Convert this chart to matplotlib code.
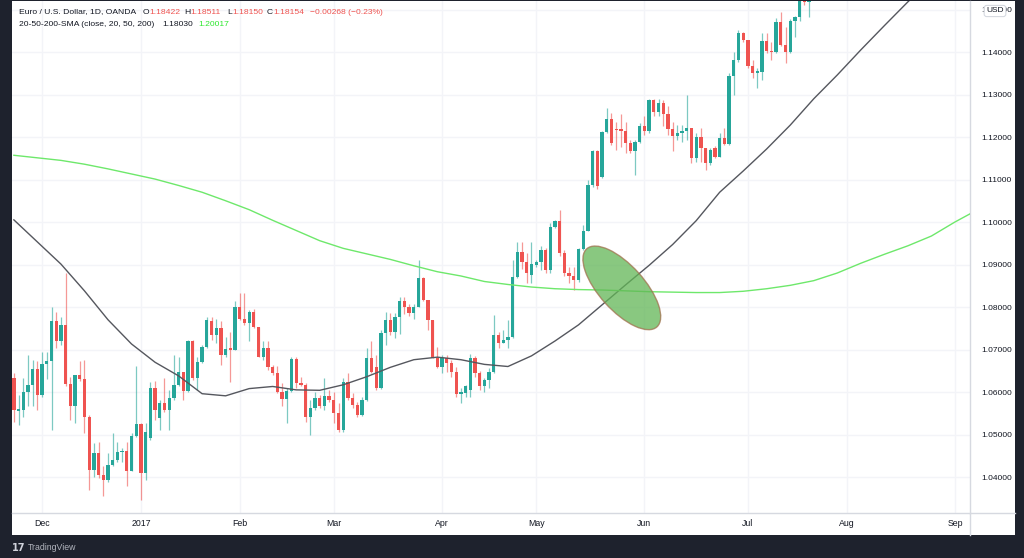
import numpy as np
import pandas as pd
import matplotlib
matplotlib.use('Agg')
import matplotlib.pyplot as plt
from matplotlib.patches import Ellipse, Rectangle
from matplotlib.transforms import IdentityTransform
from matplotlib.lines import Line2D

# EUR/USD daily candles, 23 Nov 2016 -> 19 Jul 2017
opens = [1.0632, 1.0556, 1.0558, 1.0599, 1.0616, 1.0654, 1.0593, 1.0666, 1.0672, 1.0768,
         1.0721, 1.0758, 1.0619, 1.0566, 1.0640, 1.0630, 1.0541, 1.0417, 1.0456, 1.0405,
         1.0392, 1.0428, 1.0440, 1.0459, 1.0462, 1.0415, 1.0497, 1.0524, 1.0409, 1.0491,
         1.0610, 1.0540, 1.0575, 1.0558, 1.0585, 1.0617, 1.0646, 1.0603, 1.0719, 1.0632,
         1.0670, 1.0705, 1.0768, 1.0734, 1.0751, 1.0686, 1.0703, 1.0700, 1.0801, 1.0772,
         1.0762, 1.0788, 1.0754, 1.0683, 1.0703, 1.0658, 1.0644, 1.0601, 1.0583, 1.0603,
         1.0677, 1.0621, 1.0617, 1.0542, 1.0562, 1.0587, 1.0566, 1.0591, 1.0581, 1.0550,
         1.0511, 1.0624, 1.0585, 1.0570, 1.0546, 1.0581, 1.0680, 1.0658, 1.0609, 1.0738,
         1.0770, 1.0742, 1.0777, 1.0814, 1.0801, 1.0787, 1.0801, 1.0868, 1.0817, 1.0770,
         1.0680, 1.0658, 1.0680, 1.0669, 1.0648, 1.0595, 1.0597, 1.0605, 1.0680, 1.0644,
         1.0614, 1.0628, 1.0648, 1.0734, 1.0715, 1.0723, 1.0730, 1.0871, 1.0930, 1.0907,
         1.0875, 1.0899, 1.0905, 1.0934, 1.0887, 1.0989, 1.1003, 1.0926, 1.0879, 1.0872,
         1.0864, 1.0936, 1.0980, 1.1087, 1.1166, 1.1105, 1.1211, 1.1242, 1.1220, 1.1220,
         1.1214, 1.1187, 1.1166, 1.1189, 1.1225, 1.1214, 1.1287, 1.1258, 1.1280, 1.1254,
         1.1218, 1.1202, 1.1209, 1.1213, 1.1221, 1.1150, 1.1201, 1.1174, 1.1138, 1.1174,
         1.1154, 1.1197, 1.1184, 1.1344, 1.1381, 1.1444, 1.1428, 1.1366, 1.1350, 1.1354,
         1.1427, 1.1403, 1.1401, 1.1471, 1.1417, 1.1401, 1.1474, 1.1483, 1.1540, 1.1518]
highs = [1.0644, 1.0593, 1.0632, 1.0687, 1.0675, 1.0672, 1.0695, 1.0695, 1.0801, 1.0789,
         1.0777, 1.0879, 1.0636, 1.0640, 1.0672, 1.0675, 1.0545, 1.0479, 1.0483, 1.0425,
         1.0456, 1.0503, 1.0483, 1.0468, 1.0483, 1.0503, 1.0661, 1.0527, 1.0527, 1.0624,
         1.0627, 1.0581, 1.0632, 1.0605, 1.0687, 1.0683, 1.0648, 1.0722, 1.0722, 1.0683,
         1.0711, 1.0776, 1.0776, 1.0771, 1.0768, 1.0730, 1.0742, 1.0815, 1.0832, 1.0832,
         1.0793, 1.0795, 1.0754, 1.0719, 1.0719, 1.0664, 1.0661, 1.0621, 1.0609, 1.0683,
         1.0682, 1.0636, 1.0621, 1.0581, 1.0601, 1.0593, 1.0634, 1.0605, 1.0601, 1.0573,
         1.0632, 1.0644, 1.0597, 1.0577, 1.0589, 1.0703, 1.0719, 1.0687, 1.0746, 1.0789,
         1.0787, 1.0787, 1.0824, 1.0824, 1.0806, 1.0806, 1.0911, 1.0871, 1.0817, 1.0770,
         1.0707, 1.0687, 1.0687, 1.0675, 1.0660, 1.0609, 1.0617, 1.0690, 1.0684, 1.0650,
         1.0632, 1.0656, 1.0781, 1.0742, 1.0746, 1.0770, 1.0911, 1.0954, 1.0954, 1.0926,
         1.0952, 1.0910, 1.0944, 1.0938, 1.0997, 1.1005, 1.1028, 1.0934, 1.0895, 1.0895,
         1.0938, 1.0993, 1.1099, 1.1170, 1.1170, 1.1213, 1.1268, 1.1256, 1.1236, 1.1254,
         1.1236, 1.1193, 1.1193, 1.1232, 1.1250, 1.1290, 1.1290, 1.1290, 1.1287, 1.1272,
         1.1236, 1.1228, 1.1228, 1.1299, 1.1221, 1.1209, 1.1221, 1.1174, 1.1174, 1.1180,
         1.1209, 1.1221, 1.1350, 1.1401, 1.1452, 1.1448, 1.1428, 1.1381, 1.1362, 1.1444,
         1.1444, 1.1424, 1.1479, 1.1494, 1.1460, 1.1477, 1.1485, 1.1560, 1.1560, 1.1580]
lows = [1.0530, 1.0523, 1.0542, 1.0567, 1.0567, 1.0558, 1.0589, 1.0630, 1.0511, 1.0703,
        1.0711, 1.0613, 1.0534, 1.0528, 1.0625, 1.0503, 1.0370, 1.0401, 1.0397, 1.0356,
        1.0389, 1.0426, 1.0436, 1.0436, 1.0378, 1.0413, 1.0495, 1.0345, 1.0393, 1.0487,
        1.0534, 1.0511, 1.0554, 1.0511, 1.0581, 1.0614, 1.0581, 1.0601, 1.0628, 1.0605,
        1.0668, 1.0703, 1.0722, 1.0715, 1.0664, 1.0683, 1.0624, 1.0699, 1.0770, 1.0758,
        1.0719, 1.0750, 1.0683, 1.0675, 1.0652, 1.0640, 1.0597, 1.0566, 1.0527, 1.0601,
        1.0609, 1.0613, 1.0530, 1.0499, 1.0558, 1.0562, 1.0558, 1.0577, 1.0527, 1.0507,
        1.0507, 1.0581, 1.0562, 1.0542, 1.0544, 1.0579, 1.0644, 1.0605, 1.0607, 1.0711,
        1.0734, 1.0727, 1.0737, 1.0784, 1.0780, 1.0771, 1.0799, 1.0813, 1.0746, 1.0680,
        1.0656, 1.0644, 1.0648, 1.0636, 1.0589, 1.0573, 1.0589, 1.0589, 1.0636, 1.0605,
        1.0601, 1.0609, 1.0644, 1.0703, 1.0715, 1.0703, 1.0728, 1.0868, 1.0890, 1.0856,
        1.0856, 1.0895, 1.0887, 1.0879, 1.0879, 1.0985, 1.0919, 1.0872, 1.0856, 1.0840,
        1.0860, 1.0934, 1.0978, 1.1083, 1.1078, 1.1103, 1.1209, 1.1181, 1.1170, 1.1177,
        1.1163, 1.1163, 1.1111, 1.1185, 1.1205, 1.1210, 1.1250, 1.1250, 1.1225, 1.1205,
        1.1168, 1.1193, 1.1189, 1.1193, 1.1138, 1.1142, 1.1142, 1.1123, 1.1134, 1.1150,
        1.1154, 1.1181, 1.1181, 1.1299, 1.1377, 1.1424, 1.1362, 1.1338, 1.1315, 1.1334,
        1.1397, 1.1381, 1.1397, 1.1413, 1.1373, 1.1397, 1.1436, 1.1474, 1.1510, 1.1483]
closes = [1.0558, 1.0560, 1.0599, 1.0616, 1.0654, 1.0593, 1.0666, 1.0672, 1.0768, 1.0721,
          1.0758, 1.0619, 1.0566, 1.0640, 1.0630, 1.0541, 1.0417, 1.0456, 1.0405, 1.0392,
          1.0428, 1.0440, 1.0460, 1.0462, 1.0415, 1.0497, 1.0524, 1.0409, 1.0505, 1.0610,
          1.0558, 1.0575, 1.0558, 1.0585, 1.0617, 1.0646, 1.0603, 1.0719, 1.0632, 1.0670,
          1.0705, 1.0770, 1.0734, 1.0751, 1.0686, 1.0701, 1.0699, 1.0801, 1.0772, 1.0762,
          1.0788, 1.0754, 1.0683, 1.0703, 1.0658, 1.0644, 1.0601, 1.0583, 1.0603, 1.0677,
          1.0621, 1.0617, 1.0542, 1.0562, 1.0587, 1.0566, 1.0591, 1.0581, 1.0550, 1.0511,
          1.0624, 1.0585, 1.0570, 1.0546, 1.0581, 1.0680, 1.0648, 1.0609, 1.0738, 1.0770,
          1.0742, 1.0777, 1.0814, 1.0801, 1.0787, 1.0801, 1.0868, 1.0817, 1.0770, 1.0680,
          1.0658, 1.0680, 1.0669, 1.0648, 1.0595, 1.0601, 1.0613, 1.0680, 1.0644, 1.0614,
          1.0628, 1.0648, 1.0734, 1.0715, 1.0723, 1.0730, 1.0871, 1.0930, 1.0907, 1.0879,
          1.0901, 1.0905, 1.0934, 1.0887, 1.0989, 1.1003, 1.0926, 1.0879, 1.0872, 1.0864,
          1.0936, 1.0980, 1.1087, 1.1166, 1.1085, 1.1211, 1.1242, 1.1185, 1.1216, 1.1213,
          1.1185, 1.1166, 1.1189, 1.1225, 1.1214, 1.1287, 1.1258, 1.1280, 1.1254, 1.1218,
          1.1202, 1.1210, 1.1213, 1.1221, 1.1150, 1.1201, 1.1174, 1.1138, 1.1170, 1.1154,
          1.1197, 1.1184, 1.1344, 1.1381, 1.1444, 1.1428, 1.1366, 1.1350, 1.1356, 1.1427,
          1.1403, 1.1401, 1.1471, 1.1417, 1.1401, 1.1474, 1.1483, 1.1530, 1.1518, 1.1560]

# moving averages read every 5 bars
sma50_bars = list(range(0, 200, 5))
sma50 = [1.1005, 1.0953, 1.0901, 1.0838, 1.0770, 1.0713, 1.0670, 1.0638, 1.0596, 1.0591,
         1.0608, 1.0613, 1.0605, 1.0604, 1.0617, 1.0636, 1.0658, 1.0676, 1.0682, 1.0676,
         1.0665, 1.0660, 1.0685, 1.0720, 1.0758, 1.0805, 1.0852, 1.0898, 1.0947, 1.1003,
         1.1070, 1.1120, 1.1172, 1.1228, 1.1290, 1.1346, 1.1405, 1.1462, 1.1518, 1.1570]
sma200_bars = list(range(0, 210, 5))
sma200 = [1.1157, 1.1151, 1.1145, 1.1136, 1.1125, 1.1113, 1.1101, 1.1086, 1.1070, 1.1050,
          1.1029, 1.1004, 1.0980, 1.0956, 1.0938, 1.0925, 1.0912, 1.0897, 1.0883, 1.0873,
          1.0860, 1.0853, 1.0847, 1.0843, 1.0841, 1.0840, 1.0838, 1.0836, 1.0835, 1.0834,
          1.0834, 1.0837, 1.0843, 1.0851, 1.0862, 1.0880, 1.0903, 1.0924, 1.0944, 1.0967,
          1.1000, 1.1030]

price_ticks = [1.04, 1.05, 1.06, 1.07, 1.08, 1.09, 1.10, 1.11, 1.12, 1.13, 1.14, 1.15]
month_names = ['Dec', '2017', 'Feb', 'Mar', 'Apr', 'May', 'Jun', 'Jul', 'Aug', 'Sep']

# trading days (no bars on 26 Dec and 2 Jan)
dates = pd.bdate_range('2016-11-23', '2017-09-29')
dates = dates.drop([pd.Timestamp('2016-12-26'), pd.Timestamp('2017-01-02')])
month_idx = [i for i in range(1, len(dates)) if dates[i].month != dates[i - 1].month]

W, H = 1024, 558
BG = '#1e222d'
TXT = '#131722'
GREEN = '#26a69a'
RED = '#ef5350'

fig = plt.figure(figsize=(W / 100, H / 100), dpi=100, facecolor=BG)
fig.patches.append(Rectangle((12 / W, 23 / H), 1003 / W, 534 / H, transform=fig.transFigure,
                             facecolor='white', edgecolor='none', zorder=-5))

ax = fig.add_axes([12 / W, 45 / H, 958 / W, 512 / H])
ax.set_zorder(2)
ax.set_facecolor('white')
ax.set_xlim(-0.4, 203.2)
ax.set_ylim(1.03153, 1.1520)

o = np.array(opens)
h = np.array(highs)
l = np.array(lows)
c = np.array(closes)
x = np.arange(len(o))
up = c >= o
cols = np.where(up, GREEN, RED)

ax.vlines(x, l, h, colors=cols, linewidth=0.9, alpha=0.6, zorder=3)
ax.bar(x, np.maximum(np.abs(c - o), 0.00005), bottom=np.minimum(o, c), width=0.7,
       color=cols, linewidth=0, zorder=4)

ax.plot(sma50_bars, sma50, color='#55575e', lw=1.0, zorder=5)
ax.plot(sma200_bars, sma200, color='#6ee86b', lw=1.0, zorder=5)

# grid / ticks
ax.set_yticks(price_ticks)
ax.set_yticklabels(['%.5f' % v for v in price_ticks])
ax.set_xticks(month_idx)
ax.set_xticklabels(month_names)
ax.grid(True, color='#f3f4f8', lw=1, zorder=0)
ax.set_axisbelow(True)
ax.yaxis.tick_right()
ax.tick_params(axis='y', length=0, pad=8.5, labelsize=6.0, labelcolor=TXT)
ax.tick_params(axis='x', length=0, pad=4, labelsize=6.3, labelcolor=TXT)
for lab in ax.get_xticklabels() + ax.get_yticklabels():
    lab.set_family('Liberation Sans')
for s in ['top', 'left']:
    ax.spines[s].set_visible(False)
for s in ['right', 'bottom']:
    ax.spines[s].set_color('#d6d9e0')
    ax.spines[s].set_linewidth(1)

# scale separators extending into axis areas
fig.add_artist(Line2D([970 / W, 970 / W], [23 / H, 45 / H], color='#d6d9e0', lw=1))
fig.add_artist(Line2D([970 / W, 1015 / W], [45 / H, 45 / H], color='#d6d9e0', lw=1))

# crossover highlight
fig.canvas.draw()
cx, cy = ax.transData.transform((129.2, 1.0845))
ax.add_patch(Ellipse((cx, cy), 105, 45, angle=-48, transform=IdentityTransform(),
                     facecolor='#62b656', alpha=0.75, edgecolor='#a0724e', lw=1, zorder=6))

# header legend
def ftxt(px, py, s, color, **kw):
    fig.text(px / W, 1 - py / H, s, color=color, fontsize=6.1, family='Liberation Sans',
             va='center', ha='left', zorder=10, **kw)

ftxt(19, 12, 'Euro / U.S. Dollar, 1D, OANDA', TXT)
ftxt(143, 12, 'O', TXT)
ftxt(149, 12, '1.18422', RED)
ftxt(184, 12, 'H', TXT)
ftxt(190, 12, '1.18511', RED)
ftxt(227, 12, 'L', TXT)
ftxt(232, 12, '1.18150', RED)
ftxt(267, 12, 'C', TXT)
ftxt(273, 12, '1.18154', RED)
ftxt(310, 12, '\u22120.00268 (\u22120.23%)', RED)
ftxt(19, 25, '20-50-200-SMA (close, 20, 50, 200)', TXT)
ftxt(162, 25, '1.18030', TXT)
ftxt(198, 25, '1.20017', '#2ee82e')

# currency badge
fig.text(995 / W, 1 - 11 / H, 'USD', color=TXT, fontsize=6, family='Liberation Sans',
         ha='center', va='center', zorder=10,
         bbox=dict(boxstyle='round,pad=0.25,rounding_size=0.3', fc='white', ec='#d6d9e0', lw=0.8))

# footer
fig.text(12 / W, 1 - 548 / H, '17', color='#d1d4dc', fontsize=7, weight='bold',
         family='DejaVu Sans', va='center', ha='left')
fig.text(28 / W, 1 - 548 / H, 'TradingView', color='#b2b5be', fontsize=6.3,
         family='Liberation Sans', va='center', ha='left')

fig.savefig('out.png', dpi=100, facecolor=BG)
